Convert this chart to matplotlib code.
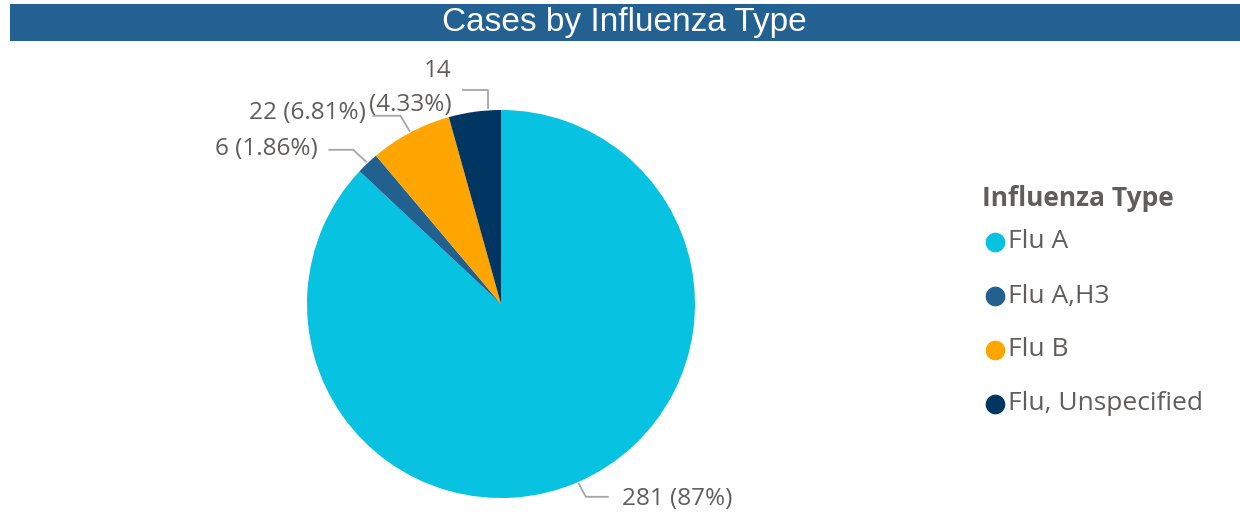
import matplotlib.pyplot as plt
import matplotlib.patches as mpatches
import numpy as np

types = ['Flu A', 'Flu A,H3', 'Flu B', 'Flu, Unspecified']
cases = [281, 6, 22, 14]
pct_labels = ['87%', '1.86%', '6.81%', '4.33%']
colors = ['#07C2E0', '#22608F', '#FFA500', '#013662']

W, H = 1240, 512
fig = plt.figure(figsize=(W / 100, H / 100), dpi=100)
ax = fig.add_axes([0, 0, 1, 1])

# title bar
ax.add_patch(mpatches.Rectangle((10, 4), W - 10, 37, color='#236192', lw=0))
ax.text(624, 23, 'Cases by Influenza Type', color='white', fontsize=24,
        family='Liberation Sans', ha='center', va='center')

# pie (y axis flipped, so draw counterclock to get clockwise on screen)
cx, cy, r = 501, 304, 194
wedges, _ = ax.pie(cases, colors=colors, startangle=-90, counterclock=True,
                   center=(cx, cy), radius=r, frame=True,
                   wedgeprops=dict(linewidth=0))
ax.set_xlim(0, W)
ax.set_ylim(H, 0)
ax.set_aspect('equal')
ax.axis('off')

# leader lines: (fraction along wedge, elbow dx, elbow dy, horizontal length)
label_color = '#605E5C'
line_color = '#A6A6A6'
fs = 17.5
leaders = [(0.5, 7, 13, 22), (0.5, -13, -12, -24), (0.5, -9, -15, -27), (0.76, 0, -18, -25)]
text_pos = [(622, 499, 'left'), (318, 149, 'right'), (366, 113, 'right'), (452, 105, 'right')]
for i, w in enumerate(wedges):
    frac, ex, ey, hl = leaders[i]
    t1, t2 = np.deg2rad(w.theta1), np.deg2rad(w.theta2)
    mid = t1 + (t2 - t1) * frac
    x0 = cx + r * 1.01 * np.cos(mid)
    y0 = cy + r * 1.01 * np.sin(mid)
    x1, y1 = x0 + ex, y0 + ey
    x2 = x1 + hl
    ax.plot([x0, x1, x2], [y0, y1, y1], color=line_color, lw=1.3)
    tx, ty, ha = text_pos[i]
    if i == 3:
        ax.text(tx, 71, str(cases[i]), color=label_color, fontsize=fs,
                family='Open Sans', ha='right', va='center')
        ax.text(tx, ty, '(' + pct_labels[i] + ')', color=label_color, fontsize=fs,
                family='Open Sans', ha='right', va='center')
    else:
        ax.text(tx, ty, f'{cases[i]} ({pct_labels[i]})', color=label_color,
                fontsize=fs, family='Open Sans', ha=ha, va='center')

# legend
ax.text(982, 199, 'Influenza Type', color=label_color, fontsize=19,
        fontweight='bold', family='Open Sans', va='center')
for i, t in enumerate(types):
    y = 242 + i * 54
    ax.scatter([995], [y], s=200, color=colors[i], lw=0)
    ax.text(1008, y, t, color=label_color, fontsize=19, family='Open Sans', va='center')

fig.savefig('out.png', dpi=100)
